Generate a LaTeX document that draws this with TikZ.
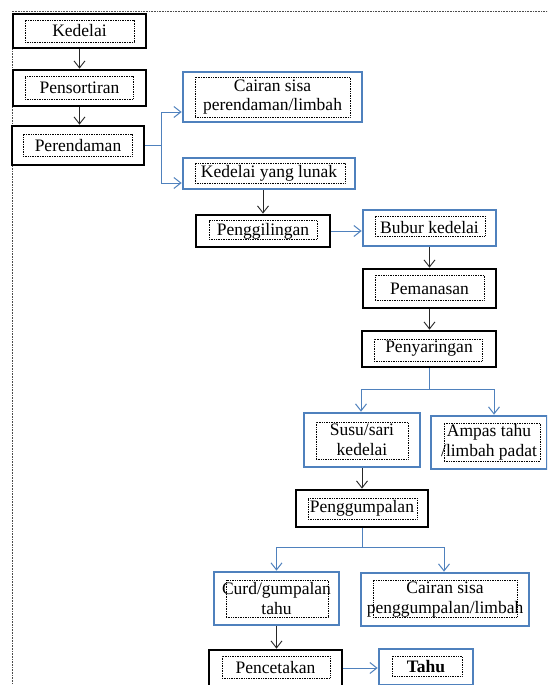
\documentclass[tikz,border=0pt]{standalone}
\usepackage{fontspec}
\setmainfont{Liberation Serif}
\usetikzlibrary{arrows.meta}
\definecolor{wblue}{HTML}{4F81BD}
\tikzset{
  x=1pt, y=-1pt,
  every node/.style={font=\fontsize{17.5}{19.5}\selectfont, align=center, inner sep=1pt},
  blackbox/.style={draw=black, line width=2.8pt, rectangle},
  bluebox/.style={draw=wblue, line width=2.7pt, rectangle},
  innerbox/.style={draw=black, densely dotted, line width=0.7pt, rectangle},
  blackarrow/.style={draw=black!85, line width=0.9pt, -{Straight Barb[length=7pt,width=11pt]}},
  bluearrow/.style={draw=wblue, line width=1pt, -{Straight Barb[length=7pt,width=11pt]}},
  blueline/.style={draw=wblue, line width=1pt},
}
\begin{document}
\begin{tikzpicture}
\clip (0,0) rectangle (547,685);
\fill[white] (0,0) rectangle (547,685);
% outer dotted frame
\draw[densely dotted, line width=0.6pt, black!70] (12,690) -- (12,11) -- (550,11);

% boxes
\node[blackbox, minimum width=133pt, minimum height=34pt] (k1) at (79.5,31) {Kedelai};
\node[innerbox, minimum width=109pt, minimum height=22pt] (k1i) at (79.5,31) {};

\node[blackbox, minimum width=133pt, minimum height=36pt] (k2) at (79.5,88) {Pensortiran};
\node[innerbox, minimum width=108pt, minimum height=23pt] (k2i) at (79,87.5) {};

\node[blackbox, minimum width=132pt, minimum height=39pt] (k3) at (78,145.5) {Perendaman};
\node[innerbox, minimum width=109pt, minimum height=22pt] (k3i) at (77.5,145) {};

\node[bluebox, minimum width=179pt, minimum height=50pt] (c1) at (272.5,97) {Cairan sisa\\perendaman/limbah};
\node[innerbox, minimum width=155pt, minimum height=40pt] (c1i) at (272.5,97) {};

\node[bluebox, minimum width=172pt, minimum height=31pt] (c2) at (269,173.5) {Kedelai yang lunak};
\node[innerbox, minimum width=150pt, minimum height=20pt] (c2i) at (270,173) {};

\node[blackbox, minimum width=134pt, minimum height=32pt] (k4) at (263,231) {Penggilingan};
\node[innerbox, minimum width=108pt, minimum height=19pt] (k4i) at (263,230) {};

\node[bluebox, minimum width=133pt, minimum height=36pt] (c3) at (429.5,228) {Bubur kedelai};
\node[innerbox, minimum width=110pt, minimum height=20pt] (c3i) at (430,226) {};

\node[blackbox, minimum width=133pt, minimum height=39pt] (k5) at (429.5,288.5) {Pemanasan};
\node[innerbox, minimum width=109pt, minimum height=25pt] (k5i) at (429.5,287.5) {};

\node[blackbox, minimum width=134pt, minimum height=36pt] (k6) at (429,349) {Penyaringan};
\node[innerbox, minimum width=108pt, minimum height=22pt] (k6i) at (428,350) {};

\node[bluebox, minimum width=116pt, minimum height=54pt] (c4) at (362,440) {Susu/sari\\kedelai};
\node[innerbox, minimum width=92pt, minimum height=37pt] (c4i) at (362,440.5) {};

\node[bluebox, minimum width=116pt, minimum height=53pt] (c5) at (489,442.5) {Ampas tahu\\/limbah padat};
\node[innerbox, minimum width=96pt, minimum height=38pt] (c5i) at (492,442) {};

\node[blackbox, minimum width=132pt, minimum height=37pt] (k7) at (362,508.5) {Penggumpalan};
\node[innerbox, minimum width=109pt, minimum height=21pt] (k7i) at (362.5,508.5) {};

\node[bluebox, minimum width=125pt, minimum height=53pt] (c6) at (276.5,598.5) {Curd/gumpalan\\tahu};
\node[innerbox, minimum width=102pt, minimum height=37pt] (c6i) at (277,598.5) {};

\node[bluebox, minimum width=168pt, minimum height=53pt] (c7) at (445,599.5) {Cairan sisa\\penggumpalan/limbah};
\node[innerbox, minimum width=144pt, minimum height=37pt] (c7i) at (445,598.5) {};

\node[blackbox, minimum width=133pt, minimum height=36pt] (k8) at (275.5,668) {Pencetakan};
\node[innerbox, minimum width=108pt, minimum height=22pt] (k8i) at (276,667) {};

\node[bluebox, minimum width=94pt, minimum height=36pt] (c8) at (426,667) {\textbf{Tahu}};
\node[innerbox, minimum width=70pt, minimum height=20pt] (c8i) at (427,666) {};

% junctions
\coordinate (j1) at (161,145);
\coordinate (j2) at (429,389);
\coordinate (j3) at (362,547);

% black arrows
\draw[blackarrow] (k1.south) -- (k1.south |- k2.north);
\draw[blackarrow] (k2.south) -- (k2.south |- k3.north);
\draw[blackarrow] (k4.north |- c2.south) -- (k4.north);
\draw[blackarrow] (c3.south) -- (c3.south |- k5.north);
\draw[blackarrow] (k5.south) -- (k5.south |- k6.north);
\draw[blackarrow] (c4.south) -- (c4.south |- k7.north);
\draw[blackarrow] (c6.south) -- (c6.south |- k8.north);

% blue connectors
\draw[blueline] (k3.east |- j1) -- (j1);
\draw[bluearrow] (j1) |- ([yshift=-15pt]c1.west);
\draw[bluearrow] (j1) |- ([yshift=-9.5pt]c2.west);
\draw[bluearrow] (k4.east) -- (k4.east -| c3.west);
\draw[blueline] (k6.south) -- (j2);
\draw[bluearrow] (j2) -| ([xshift=-1pt]c4.north);
\draw[bluearrow] (j2) -| ([xshift=5pt]c5.north);
\draw[blueline] (k7.south) -- (j3);
\draw[bluearrow] (j3) -| (c6.north);
\draw[bluearrow] (j3) -| ([xshift=-1pt]c7.north);
\draw[bluearrow] (k8.east) -- (k8.east -| c8.west);
\end{tikzpicture}
\end{document}
